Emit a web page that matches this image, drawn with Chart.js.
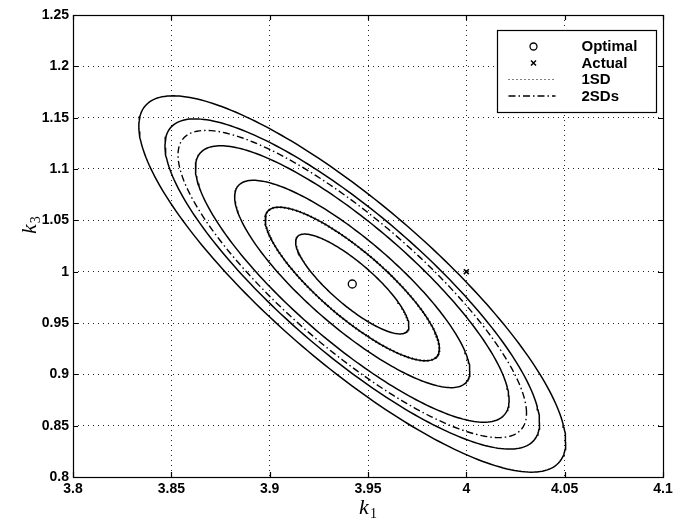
<!DOCTYPE html>
<html>
<head>
<meta charset="utf-8">
<script src="https://cdn.jsdelivr.net/npm/chart.js@4/dist/chart.umd.min.js"></script>
<style>
  html, body { margin: 0; padding: 0; background: #ffffff; }
  #wrap { width: 683px; height: 521px; }
</style>
</head>
<body>
<div id="wrap"><canvas id="c" width="683" height="521"></canvas></div>
<script>
// Parameter estimates (k1, k3)
const optimalPoint = [3.942, 0.988];
const actualPoint = [4.0, 1.0];

// Spread of the estimate: standard deviation of k1 and k3 and their correlation
const sdK1 = 0.0443;
const sdK3 = 0.0748;
const corrK1K3 = -0.84;

// Contour levels of the cost surface, in standard deviations
const contourLevels = [0.65, 1.0, 1.35, 1.8, 2.15, 2.45];
// Confidence regions
const regionLabels = ['1SD', '2SDs'];
const regionLevels = [1, 2];

// Axis ticks
const xTicks = [3.8, 3.85, 3.9, 3.95, 4.0, 4.05, 4.1];
const yTicks = [0.8, 0.85, 0.9, 0.95, 1.0, 1.05, 1.1, 1.15, 1.2, 1.25];

const SEGMENTS = 240;

// Level set of the quadratic form centred on the optimum
function contour(level) {
  const pts = [];
  const s = Math.sqrt(1 - corrK1K3 * corrK1K3);
  for (let i = 0; i <= SEGMENTS; i++) {
    const t = (2 * Math.PI * i) / SEGMENTS;
    const u = Math.cos(t), v = Math.sin(t);
    pts.push({
      x: optimalPoint[0] + level * sdK1 * u,
      y: optimalPoint[1] + level * sdK3 * (corrK1K3 * u + s * v)
    });
  }
  return pts;
}

const fmt = v => String(Number(Number(v).toFixed(2)));

const TICK_FONT = { family: '"Liberation Sans", Arial, sans-serif', size: 14, weight: 'bold' };

const datasets = [];
contourLevels.forEach((lv, i) => {
  datasets.push({
    label: 'contour ' + (i + 1),
    data: contour(lv),
    showLine: true,
    borderColor: '#000',
    borderWidth: 1.5,
    pointRadius: 0,
    fill: false,
    order: 3
  });
});
const regionDash = [[1, 3], [7, 3, 1.5, 3]];
const regionWidth = [2.3, 1.4];
regionLevels.forEach((lv, i) => {
  datasets.push({
    label: regionLabels[i],
    data: contour(lv),
    showLine: true,
    borderColor: '#000',
    borderWidth: regionWidth[i],
    borderDash: regionDash[i],
    pointRadius: 0,
    fill: false,
    order: 2
  });
});
datasets.push({
  label: 'Optimal',
  data: [{ x: optimalPoint[0], y: optimalPoint[1] }],
  showLine: false,
  pointStyle: 'circle',
  pointRadius: 4,
  pointBorderWidth: 1.3,
  pointBorderColor: '#000',
  pointBackgroundColor: '#fff',
  order: 1
});
datasets.push({
  label: 'Actual',
  data: [{ x: actualPoint[0], y: actualPoint[1] }],
  showLine: false,
  pointStyle: 'crossRot',
  pointRadius: 3.5,
  pointBorderWidth: 1.6,
  pointBorderColor: '#000',
  order: 1
});

// Box around the axes with inward tick marks on every side
const framePlugin = {
  id: 'frame',
  afterDraw(chart) {
    const { ctx, chartArea: a, scales } = chart;
    const L = 5;
    ctx.save();
    ctx.strokeStyle = '#000';
    ctx.lineWidth = 1.2;
    ctx.beginPath();
    xTicks.forEach(v => {
      const px = Math.round(scales.x.getPixelForValue(v)) + 0.5;
      ctx.moveTo(px, a.bottom); ctx.lineTo(px, a.bottom - L);
      ctx.moveTo(px, a.top); ctx.lineTo(px, a.top + L);
    });
    yTicks.forEach(v => {
      const py = Math.round(scales.y.getPixelForValue(v)) + 0.5;
      ctx.moveTo(a.left, py); ctx.lineTo(a.left + L, py);
      ctx.moveTo(a.right, py); ctx.lineTo(a.right - L, py);
    });
    ctx.stroke();
    ctx.strokeRect(Math.round(a.left) + 0.5, Math.round(a.top) + 0.5,
                   Math.round(a.right - a.left), Math.round(a.bottom - a.top));
    ctx.restore();
  }
};

// Axis titles: italic k with a subscript index
const titlePlugin = {
  id: 'titles',
  afterDraw(chart) {
    const { ctx, chartArea: a } = chart;
    const big = 'italic 22px "Liberation Serif", "Times New Roman", serif';
    const small = '14px "Liberation Serif", "Times New Roman", serif';
    ctx.save();
    ctx.fillStyle = '#000';
    ctx.textBaseline = 'alphabetic';
    ctx.textAlign = 'left';
    // x title
    ctx.font = big;
    const kw = ctx.measureText('k').width;
    ctx.font = small;
    const sw = ctx.measureText('1').width;
    const cx = (a.left + a.right) / 2;
    const x0 = cx - (kw + sw + 1) / 2;
    ctx.font = big;
    ctx.fillText('k', x0, 514);
    ctx.font = small;
    ctx.fillText('1', x0 + kw + 1, 518);
    // y title
    ctx.translate(36, 234);
    ctx.rotate(-Math.PI / 2);
    ctx.font = big;
    ctx.fillText('k', 0, 0);
    ctx.font = small;
    ctx.fillText('3', kw + 1, 4);
    ctx.restore();
  }
};

// Legend box in the upper right corner of the axes
const legendItems = [
  { label: 'Optimal', kind: 'circle' },
  { label: 'Actual', kind: 'cross' },
  { label: regionLabels[0], kind: 'line', dash: regionDash[0], width: 1.2 },
  { label: regionLabels[1], kind: 'line', dash: regionDash[1], width: 1.4 }
];
const legendPlugin = {
  id: 'boxLegend',
  afterDraw(chart) {
    const { ctx, chartArea: a } = chart;
    const w = 159, h = 82;
    const bx = Math.round(a.right - 7 - w) + 0.5;
    const by = Math.round(a.top + 15) + 0.5;
    ctx.save();
    ctx.fillStyle = '#fff';
    ctx.fillRect(bx, by, w, h);
    ctx.strokeStyle = '#000';
    ctx.lineWidth = 1.2;
    ctx.strokeRect(bx, by, w, h);
    const rowY = i => by + 16 + i * 16.5;
    const symX = bx + 36;
    legendItems.forEach((it, i) => {
      const y = rowY(i);
      ctx.strokeStyle = '#000';
      ctx.setLineDash([]);
      if (it.kind === 'circle') {
        ctx.lineWidth = 1.3;
        ctx.beginPath();
        ctx.arc(symX, y, 3.5, 0, 2 * Math.PI);
        ctx.stroke();
      } else if (it.kind === 'cross') {
        ctx.lineWidth = 1.5;
        const r = 2.5;
        ctx.beginPath();
        ctx.moveTo(symX - r, y - r); ctx.lineTo(symX + r, y + r);
        ctx.moveTo(symX - r, y + r); ctx.lineTo(symX + r, y - r);
        ctx.stroke();
      } else {
        ctx.lineWidth = it.width;
        ctx.setLineDash(it.dash);
        ctx.beginPath();
        ctx.moveTo(bx + 11, y); ctx.lineTo(bx + 58, y);
        ctx.stroke();
        ctx.setLineDash([]);
      }
      ctx.fillStyle = '#000';
      ctx.font = 'bold 15px "Liberation Sans", Arial, sans-serif';
      ctx.textAlign = 'left';
      ctx.textBaseline = 'middle';
      ctx.fillText(it.label, bx + 84, y + 0.5);
    });
    ctx.restore();
  }
};

new Chart(document.getElementById('c'), {
  type: 'scatter',
  data: { datasets },
  options: {
    responsive: false,
    animation: false,
    layout: { padding: { left: 0, right: 20, top: 15, bottom: 0 } },
    plugins: {
      legend: { display: false },
      tooltip: { enabled: false }
    },
    scales: {
      x: {
        type: 'linear',
        min: 3.8,
        max: 4.1,
        afterBuildTicks: s => { s.ticks = xTicks.map(v => ({ value: v })); },
        afterFit: s => { s.height = 44; },
        ticks: {
          callback: v => fmt(v),
          color: '#000',
          font: TICK_FONT,
          padding: 4,
          maxRotation: 0,
          autoSkip: false
        },
        grid: { color: '#222', lineWidth: 1, drawTicks: false },
        border: { display: false, dash: [1, 4] }
      },
      y: {
        type: 'linear',
        min: 0.8,
        max: 1.25,
        afterBuildTicks: s => { s.ticks = yTicks.map(v => ({ value: v })); },
        afterFit: s => { s.width = 73; },
        ticks: {
          callback: v => fmt(v),
          color: '#000',
          font: TICK_FONT,
          padding: 4,
          autoSkip: false
        },
        grid: { color: '#222', lineWidth: 1, drawTicks: false },
        border: { display: false, dash: [1, 4] }
      }
    }
  },
  plugins: [framePlugin, titlePlugin, legendPlugin]
});
</script>
</body>
</html>
